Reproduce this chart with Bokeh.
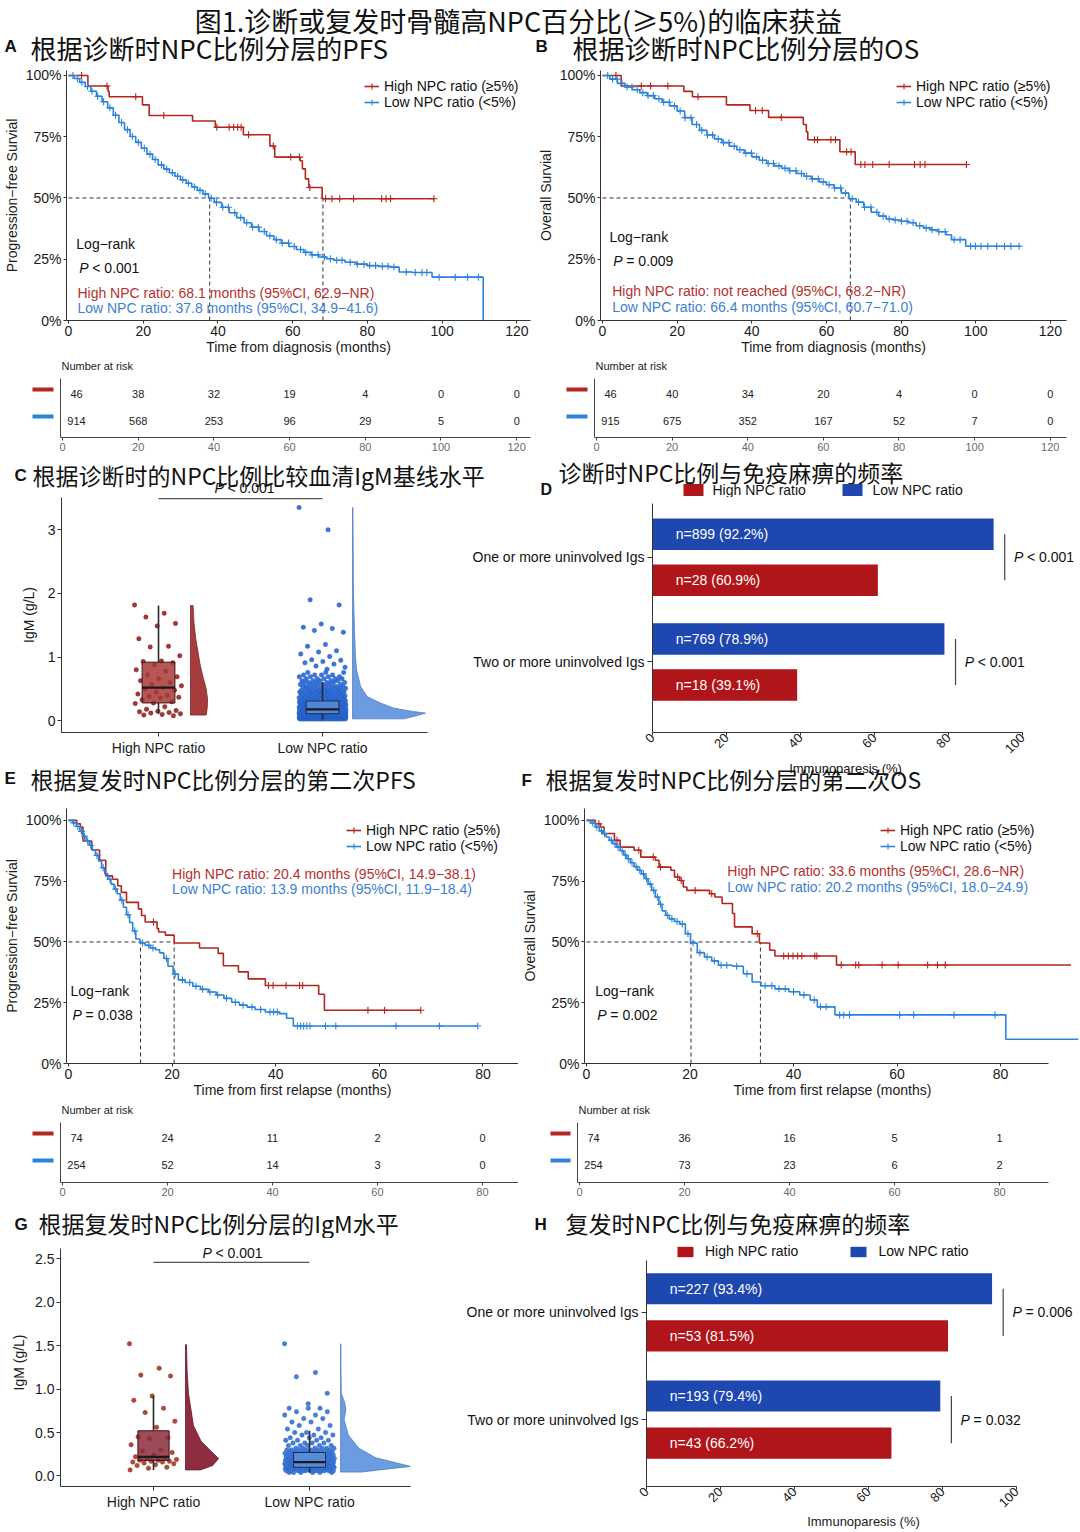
import math
import numpy as np
from bokeh.plotting import figure
from bokeh.models import Range1d, FixedTicker, NumeralTickFormatter, Legend, LegendItem
from bokeh.layouts import column, row
from bokeh.embed import file_html
from bokeh.resources import INLINE
from bokeh.core.properties import value

# ======================= DATA =======================
# ---- Panel A: PFS, NPC ratio at diagnosis ----
A_high_t = [0, 5.2, 10.6, 10.9, 19.8, 21.6, 33.2, 39.3, 46.8, 53.9, 55.2, 62.0, 62.6, 63.4, 64.3, 67.9, 98.0]
A_high_s = [1.0, 0.957, 0.935, 0.913, 0.880, 0.837, 0.814, 0.789, 0.758, 0.712, 0.667, 0.652, 0.619, 0.578, 0.543, 0.497, 0.497]
A_high_cens = [3.5, 10.3, 18.0, 25.5, 39.7, 43.0, 44.2, 45.3, 46.2, 48.2, 54.8, 59.5, 61.8, 64.6, 68.8, 70.5,
               72.6, 76.3, 83.8, 85.0, 86.2, 97.8]
A_low_t = [0, 1.5, 3, 4.5, 6, 7.5, 9, 10.5, 12, 13.5, 15, 16.5, 18, 19.5, 21, 22.5, 24, 25.5, 27, 28.5,
           30, 31.5, 33, 34.5, 36, 37.5, 39, 41, 43, 45, 47, 49, 51, 53, 55, 57, 59, 61, 63, 65,
           67, 69, 71, 74, 77, 80, 83, 86, 88.5, 92, 97.3, 111]
A_low_s = [1.0, 0.988, 0.972, 0.955, 0.936, 0.915, 0.893, 0.868, 0.838, 0.808, 0.779, 0.751, 0.727, 0.703,
           0.679, 0.657, 0.635, 0.618, 0.603, 0.589, 0.574, 0.56, 0.545, 0.531, 0.517, 0.499, 0.482, 0.462,
           0.44, 0.42, 0.399, 0.381, 0.363, 0.346, 0.33, 0.316, 0.302, 0.29, 0.278, 0.268, 0.259, 0.252,
           0.246, 0.238, 0.23, 0.224, 0.221, 0.218, 0.198, 0.196, 0.177, 0.0]
A_low_cens = [1.2, 2.4, 3.6, 5.1, 6.3, 7.8, 9.4, 11.1, 12.6, 14.2, 15.8, 17.1, 18.7, 20.3, 21.8, 23.2, 24.9,
              26.3, 27.8, 29.2, 30.6, 32.1, 33.7, 35.2, 36.6, 38.2, 39.6, 41.3, 42.8, 44.5, 46.1, 47.7, 49.3,
              50.8, 52.4, 53.9, 55.6, 57.2, 58.9, 60.4, 62.1, 63.5, 65.2, 66.8, 68.5, 70.1, 71.8, 73.2, 75.4,
              77.3, 79.1, 80.6, 82.2, 84.0, 85.5, 87.1, 90.4, 92.8, 94.6, 95.9, 99.2, 103.5, 106.8, 109.7]
A_medians = [37.8, 68.1]
A_risk_t = [0, 20, 40, 60, 80, 100, 120]
A_risk_high = [46, 38, 32, 19, 4, 0, 0]
A_risk_low = [914, 568, 253, 96, 29, 5, 0]

# ---- Panel B: OS, NPC ratio at diagnosis ----
B_high_t = [0, 5.0, 21.8, 24.1, 33.2, 39.5, 44.5, 53.8, 54.6, 55.0, 63.6, 67.7, 97.5]
B_high_s = [1.0, 0.957, 0.935, 0.913, 0.880, 0.857, 0.829, 0.800, 0.770, 0.738, 0.689, 0.637, 0.637]
B_high_cens = [3.6, 10.4, 12.9, 17.5, 25.6, 41.0, 42.8, 47.9, 56.8, 57.6, 61.2, 62.4, 65.4, 66.6, 69.2,
               70.3, 72.4, 76.8, 83.6, 85.1, 86.4, 97.5]
B_low_t = [0, 2, 4, 6, 8, 10, 12, 14, 16, 18, 20, 22, 24, 26, 28, 30, 32, 34, 36, 38, 40, 42, 44, 46, 48,
           50, 52, 54, 56, 58, 60, 62, 64, 66, 68, 70, 72, 74, 76, 78, 80, 82, 84, 86, 88, 90, 92, 93.5,
           97.3, 112]
B_low_s = [1.0, 0.985, 0.968, 0.953, 0.942, 0.93, 0.918, 0.905, 0.891, 0.876, 0.855, 0.828, 0.80, 0.776,
           0.757, 0.741, 0.726, 0.711, 0.697, 0.683, 0.668, 0.654, 0.641, 0.631, 0.621, 0.611, 0.60, 0.589,
           0.578, 0.566, 0.554, 0.541, 0.52, 0.497, 0.483, 0.462, 0.442, 0.426, 0.414, 0.41, 0.405, 0.399,
           0.387, 0.378, 0.37, 0.362, 0.35, 0.33, 0.303, 0.303]
B_low_cens = [1.4, 2.7, 3.9, 5.2, 6.6, 7.9, 9.3, 10.8, 12.2, 13.6, 15.1, 16.4, 17.9, 19.3, 20.8, 22.1, 23.7,
              25.2, 26.6, 28.1, 29.5, 31.0, 32.4, 33.9, 35.3, 36.8, 38.4, 39.9, 41.3, 42.9, 44.4, 45.8, 47.3,
              48.9, 50.2, 51.8, 53.3, 54.7, 56.2, 57.8, 59.1, 60.7, 62.2, 63.8, 65.1, 66.9, 68.6, 70.2, 71.9,
              73.5, 75.2, 76.8, 78.4, 80.1, 81.6, 83.2, 85.0, 86.7, 88.3, 90.1, 91.8, 94.2, 95.8, 98.6, 99.9,
              101.4, 103.2, 105.6, 107.7, 109.4, 111.6]
B_medians = [66.4]
B_risk_high = [46, 40, 34, 20, 4, 0, 0]
B_risk_low = [915, 675, 352, 167, 52, 7, 0]

# ---- Panel E: second PFS, NPC ratio at relapse ----
E_high_t = [0, 1.6, 2.3, 2.8, 4.5, 6.0, 7.2, 8.5, 9.5, 10.2, 11.2, 13.5, 14.1, 14.8, 17.1, 17.4, 18.7,
            20.4, 25.3, 28.9, 29.9, 32.8, 34.7, 38.0, 48.3, 49.4, 68.0]
E_high_s = [1.0, 0.986, 0.973, 0.915, 0.878, 0.836, 0.772, 0.758, 0.731, 0.704, 0.663, 0.636, 0.609, 0.582,
            0.555, 0.541, 0.528, 0.496, 0.475, 0.453, 0.402, 0.377, 0.348, 0.321, 0.285, 0.219, 0.219]
E_high_cens = [16.4, 38.6, 39.5, 42.0, 44.6, 45.2, 57.8, 61.0, 68.0]
E_low_t = [0, 0.8, 1.5, 2.2, 2.8, 3.4, 4.0, 4.6, 5.2, 5.8, 6.4, 7.0, 7.6, 8.2, 8.8, 9.4, 10.0, 10.6, 11.2,
           11.8, 12.4, 13.0, 13.8, 14.8, 15.8, 16.8, 17.6, 18.4, 19.2, 20.2, 21.2, 22.5, 24.0, 25.5, 27.0,
           28.5, 30.0, 31.5, 33.0, 34.5, 36.0, 38.0, 40.7, 42.1, 43.4, 79.0]
E_low_s = [1.0, 0.99, 0.975, 0.955, 0.935, 0.915, 0.898, 0.877, 0.856, 0.833, 0.805, 0.78, 0.758, 0.738,
           0.718, 0.698, 0.672, 0.643, 0.612, 0.58, 0.545, 0.512, 0.496, 0.486, 0.475, 0.468, 0.455, 0.432,
           0.40, 0.368, 0.344, 0.333, 0.318, 0.305, 0.294, 0.282, 0.268, 0.252, 0.24, 0.232, 0.222, 0.212,
           0.205, 0.186, 0.154, 0.154]
E_low_cens = [1.0, 1.8, 2.5, 3.1, 3.7, 4.3, 5.5, 6.7, 8.0, 9.1, 10.3, 11.5, 12.8, 14.3, 15.5, 16.3, 18.9,
              20.6, 22.0, 23.4, 24.6, 25.9, 27.3, 28.8, 30.5, 32.2, 33.7, 35.4, 37.1, 38.9, 39.6, 40.3, 44.2,
              44.8, 45.4, 46.0, 46.6, 49.6, 51.6, 63.2, 71.6, 79.0]
E_medians = [13.9, 20.4]
E_risk_t = [0, 20, 40, 60, 80]
E_risk_high = [74, 24, 11, 2, 0]
E_risk_low = [254, 52, 14, 3, 0]

# ---- Panel F: second OS, NPC ratio at relapse ----
F_high_t = [0, 1.7, 2.7, 3.4, 5.4, 6.5, 9.2, 10.5, 13.3, 14.0, 16.3, 17.0, 18.0, 18.7, 19.4, 23.8, 24.8,
            26.2, 28.2, 28.6, 32.0, 33.4, 35.4, 36.4, 48.3, 93.6]
F_high_s = [1.0, 0.986, 0.973, 0.946, 0.918, 0.89, 0.877, 0.849, 0.836, 0.808, 0.795, 0.767, 0.753, 0.726,
            0.712, 0.698, 0.685, 0.658, 0.617, 0.562, 0.534, 0.496, 0.466, 0.442, 0.405, 0.405]
F_high_cens = [2.4, 5.9, 10.1, 12.9, 14.3, 17.6, 18.3, 21.0, 24.2, 33.0, 38.1, 39.0, 39.9, 40.8, 41.6,
               44.1, 44.5, 49.2, 52.0, 52.6, 57.1, 60.2, 65.9, 67.8, 69.3]
F_low_t = [0, 0.8, 1.7, 2.5, 3.1, 3.8, 4.4, 5.1, 5.8, 6.5, 7.2, 7.8, 8.5, 9.2, 9.9, 10.6, 11.3, 11.9, 12.6,
           13.3, 14.0, 14.6, 15.3, 16.0, 17.0, 18.0, 19.1, 20.1, 21.4, 22.8, 24.2, 25.5, 28.2, 30.3, 32.0,
           33.7, 36.4, 39.1, 41.2, 43.2, 44.6, 48.0, 81.0, 95.0]
F_low_s = [1.0, 0.99, 0.973, 0.957, 0.945, 0.932, 0.918, 0.904, 0.89, 0.875, 0.858, 0.842, 0.826, 0.81,
           0.795, 0.78, 0.76, 0.738, 0.712, 0.685, 0.655, 0.628, 0.61, 0.595, 0.584, 0.574, 0.534, 0.496,
           0.456, 0.438, 0.422, 0.404, 0.40, 0.369, 0.335, 0.32, 0.307, 0.295, 0.282, 0.261, 0.233, 0.20,
           0.10, 0.10]
F_low_cens = [1.2, 2.0, 2.9, 3.5, 4.8, 5.5, 6.1, 6.9, 7.5, 8.1, 8.8, 9.6, 10.3, 11.0, 11.6, 12.3, 13.0,
              13.7, 14.3, 15.6, 16.5, 17.5, 18.5, 19.6, 20.6, 21.9, 23.3, 24.7, 26.0, 27.1, 29.0, 31.0, 34.5,
              35.8, 37.2, 38.4, 40.0, 42.0, 44.0, 45.2, 46.3, 48.9, 49.7, 50.8, 60.5, 63.2, 71.0, 78.9]
F_medians = [20.2, 33.6]
F_risk_high = [74, 36, 16, 5, 1]
F_risk_low = [254, 73, 23, 6, 2]

# ---- Panel C: baseline serum IgM (g/L) ----
C_high_vals = [1.82, 1.69, 1.63, 1.53, 1.49, 1.29, 1.17, 1.16, 1.02, 0.94, 0.93, 0.91, 0.88, 0.80, 0.78,
               0.72, 0.69, 0.66, 0.63, 0.60, 0.57, 0.55, 0.52, 0.50, 0.48, 0.45, 0.42, 0.40, 0.38, 0.37,
               0.36, 0.33, 0.30, 0.28, 0.27, 0.22, 0.18, 0.16, 0.15, 0.14, 0.13, 0.12, 0.11, 0.10, 0.09, 0.08]
C_low_sparse = [3.35, 3.0, 1.90, 1.82, 1.52, 1.47, 1.45, 1.42, 1.39, 1.20, 1.17, 1.10, 1.08, 1.05, 1.01,
                0.96, 0.95, 0.93, 0.91, 0.89, 0.86, 0.84, 0.81]
C_low_levels = [0.03, 0.05, 0.07, 0.09, 0.11, 0.13, 0.15, 0.17, 0.19, 0.21, 0.23, 0.25, 0.27, 0.29, 0.31,
                0.33, 0.36, 0.39, 0.42, 0.45, 0.48, 0.51, 0.54, 0.57, 0.60, 0.63, 0.66, 0.69, 0.72, 0.76]
C_low_counts = [40, 50, 55, 55, 55, 50, 45, 40, 35, 30, 28, 25, 22, 20, 18, 15, 14, 12, 11, 10, 9, 8, 7, 6,
                6, 5, 5, 4, 4, 3]
C_high_box = [0.11, 0.28, 0.52, 0.92, 1.81]   # whisker-lo, q1, median, q3, whisker-hi
C_low_box = [0.02, 0.11, 0.18, 0.31, 0.61]
C_high_viol_v = [0.09, 0.2, 0.34, 0.5, 0.7, 0.9, 1.05, 1.3, 1.55, 1.81]
C_high_viol_w = [0.92, 0.98, 1.0, 0.92, 0.72, 0.55, 0.46, 0.3, 0.2, 0.15]
C_low_viol_v = [0.03, 0.08, 0.12, 0.15, 0.2, 0.28, 0.38, 0.54, 0.8, 1.0, 1.31, 2.0, 3.35]
C_low_viol_w = [0.7, 0.88, 1.0, 0.8, 0.56, 0.38, 0.2, 0.11, 0.055, 0.04, 0.03, 0.012, 0.005]

# ---- Panel G: IgM at relapse (g/L) ----
G_high_vals = [1.52, 1.24, 1.16, 1.15, 0.92, 0.87, 0.78, 0.73, 0.63, 0.56, 0.45, 0.44, 0.43, 0.36, 0.30,
               0.29, 0.27, 0.24, 0.22, 0.21, 0.20, 0.19, 0.18, 0.18, 0.17, 0.17, 0.16, 0.16, 0.15, 0.14,
               0.13, 0.12, 0.10, 0.09, 0.07]
G_low_sparse = [1.52, 1.19, 1.14, 0.95, 0.83]
G_low_levels = [0.04, 0.06, 0.08, 0.10, 0.12, 0.14, 0.16, 0.18, 0.20, 0.22, 0.24, 0.26, 0.28, 0.30, 0.32,
                0.35, 0.38, 0.41, 0.44, 0.47, 0.50, 0.54, 0.58, 0.62, 0.66, 0.70, 0.74, 0.78]
G_low_counts = [6, 12, 18, 20, 22, 20, 18, 16, 14, 12, 10, 9, 8, 7, 6, 5, 4, 4, 3, 3, 3, 2, 2, 2, 2, 2, 2, 3]
G_high_box = [0.07, 0.18, 0.22, 0.52, 0.92]
G_low_box = [0.04, 0.10, 0.16, 0.27, 0.52]
G_high_viol_v = [0.07, 0.12, 0.2, 0.29, 0.4, 0.58, 0.95, 1.2, 1.51]
G_high_viol_w = [0.45, 0.82, 1.0, 0.76, 0.47, 0.24, 0.09, 0.05, 0.03]
G_low_viol_v = [0.045, 0.07, 0.11, 0.16, 0.21, 0.32, 0.47, 0.65, 0.76, 0.84, 0.95, 1.2, 1.52]
G_low_viol_w = [0.3, 0.55, 1.0, 0.75, 0.5, 0.26, 0.11, 0.05, 0.075, 0.06, 0.01, 0.005, 0.003]

# ---- Panels D / H: immunoparesis (%) ----
IG_cats = ["One or more uninvolved Igs", "Two or more uninvolved Igs"]
D_low_pct = [92.2, 78.9]
D_high_pct = [60.9, 39.1]
D_low_n = [899, 769]
D_high_n = [28, 18]
D_p = ["P < 0.001", "P < 0.001"]
H_low_pct = [93.4, 79.4]
H_high_pct = [81.5, 66.2]
H_low_n = [227, 193]
H_high_n = [53, 43]
H_p = ["P = 0.006", "P = 0.032"]

# ======================= STYLE =======================
CJK = "Noto Sans CJK SC"
SANS = "Liberation Sans"
KM_RED = "#B3261E"
KM_BLUE = "#2D83DA"
T_RED = "#B5302F"
T_BLUE = "#3D7FD4"
BAR_RED = "#B01519"
BAR_BLUE = "#1E47AF"
INK = "#111111"


def new_fig(w, h, xr, yr, bl=0, br=0, bt=0, bb=0, xaxis=True, yaxis=True):
    kw = {}
    if not xaxis:
        kw["x_axis_location"] = None
    if not yaxis:
        kw["y_axis_location"] = None
    p = figure(width=w, height=h, x_range=Range1d(*xr), y_range=Range1d(*yr),
               output_backend="svg", toolbar_location=None, title=None,
               min_border_left=bl, min_border_right=br, min_border_top=bt, min_border_bottom=bb, **kw)
    p.outline_line_color = None
    p.grid.visible = False
    p.background_fill_color = "white"
    p.border_fill_color = "white"
    return p


def style_axis(ax, fs=14, color="#1a1a1a", lc="#333333", tick_out=3):
    ax.major_label_text_font = SANS
    ax.major_label_text_font_size = f"{fs}px"
    ax.major_label_text_color = color
    ax.axis_line_color = lc
    ax.axis_line_width = 1
    ax.major_tick_line_color = lc
    ax.minor_tick_line_color = None
    ax.major_tick_in = 0
    ax.major_tick_out = tick_out
    ax.major_label_standoff = 2
    ax.axis_label_text_font = SANS
    ax.axis_label_text_font_size = f"{fs}px"
    ax.axis_label_text_font_style = "normal"
    ax.axis_label_text_color = color


def txt(p, x, y, s, size=14, color=INK, align="left", font=SANS, style="normal", baseline="middle", xoff=0):
    p.text(x=[x], y=[y], text=[s], text_font=value(font), text_font_size=f"{size}px",
           text_color=color, text_align=align, text_baseline=baseline, text_font_style=style,
           x_offset=xoff)


def ptxt(p, x, y, s, size=14, color=INK):
    # italic "P" followed by the rest of the statistic
    txt(p, x, y, "P", size, color, style="italic")
    txt(p, x, y, s[2:], size, color, xoff=round(size * 0.95))


def km_panel(w, h, xr, yr, bl, br, bt, bb, xticks, xlabel, ylabel, curves, medians, leg_loc, notes,
             xbounds=None):
    p = new_fig(w, h, xr, yr, bl, br, bt, bb)
    xa, ya = p.xaxis[0], p.yaxis[0]
    style_axis(xa)
    style_axis(ya)
    xa.ticker = FixedTicker(ticks=xticks)
    ya.ticker = FixedTicker(ticks=[0, 0.25, 0.5, 0.75, 1.0])
    ya.formatter = NumeralTickFormatter(format="0%")
    xa.axis_label = xlabel
    ya.axis_label = ylabel
    xa.axis_label_standoff = 0
    ya.axis_label_standoff = 3
    if xbounds:
        xa.bounds = xbounds
    mx = max(medians)
    p.line([0, mx], [0.5, 0.5], line_color="#333333", line_dash="4 3", line_width=1)
    for m in medians:
        p.line([m, m], [0, 0.5], line_color="#333333", line_dash="4 3", line_width=1)
    items = []
    for label, t, s, cens, color in curves:
        r1 = p.step(x=t, y=s, mode="after", line_color=color, line_width=1.6)
        ta = np.array(t)
        sa = np.array(s)
        ca = np.array(cens)
        idx = np.searchsorted(ta, ca, side="right") - 1
        r2 = p.scatter(x=ca, y=sa[idx], marker="cross", size=7, line_color=color, line_width=1.1)
        items.append(LegendItem(label=label, renderers=[r1, r2]))
    leg = Legend(items=items, location=leg_loc, orientation="vertical", border_line_color=None,
                 background_fill_alpha=0, padding=0, margin=0, spacing=0, label_height=16,
                 glyph_height=16, glyph_width=15, label_standoff=5, label_text_font=SANS,
                 label_text_font_size="14px", label_text_color=INK)
    p.add_layout(leg)
    for x, y, s, color in notes:
        if s.startswith("P "):
            ptxt(p, x, y, s, 14, color)
        else:
            txt(p, x, y, s, 14, color)
    return p


def risk_panel(w, h, xr, yr, br, bb, xbounds, xticks, hi_n, lo_n, key_x, vline_x, nar_x):
    p = new_fig(w, h, xr, yr, 0, br, 0, bb, yaxis=False)
    xa = p.xaxis[0]
    style_axis(xa, fs=11, color="#6a6a6a", lc="#444444")
    xa.ticker = FixedTicker(ticks=xticks)
    xa.bounds = xbounds
    p.segment(x0=[vline_x], y0=[yr[0]], x1=[vline_x], y1=[1.59], line_color="#444444", line_width=1)
    p.segment(x0=[key_x[0], key_x[0]], x1=[key_x[1], key_x[1]], y0=[1.185, 0.185], y1=[1.185, 0.185],
              line_color=[KM_RED, KM_BLUE], line_width=4)
    txt(p, nar_x, 2.037, "Number at risk", 11, "#222222")
    for yv, ns in [(1, hi_n), (0, lo_n)]:
        p.text(x=xticks[1:], y=[yv] * (len(xticks) - 1), text=[str(n) for n in ns[1:]],
               text_font=value(SANS), text_font_size="11px", text_color="#222222",
               text_align="center", text_baseline="middle")
        p.text(x=[xticks[0]], y=[yv], text=[str(ns[0])], text_font=value(SANS), text_font_size="11px",
               text_color="#222222", text_align="center", text_baseline="middle", x_offset=14)
    return p


def jitter(n, half):
    return ((np.arange(n) * 0.6180339887) % 1.0 - 0.5) * 2 * half


def rain_panel(w, h, xr, yr, bl, br, bb, yticks, yfmt, ybounds, groups, bracket_y, lab_standoff,
               ptext=None):
    p = new_fig(w, h, xr, yr, bl, br, 0, bb)
    xa, ya = p.xaxis[0], p.yaxis[0]
    style_axis(xa, tick_out=4)
    style_axis(ya, tick_out=4)
    xa.ticker = FixedTicker(ticks=[0, 1])
    xa.major_label_overrides = {0: "High NPC ratio", 1: "Low NPC ratio"}
    xa.major_label_standoff = 3
    ya.ticker = FixedTicker(ticks=yticks)
    if yfmt:
        ya.formatter = NumeralTickFormatter(format=yfmt)
    ya.axis_label = "IgM (g/L)"
    ya.axis_label_standoff = lab_standoff
    ya.bounds = ybounds
    for g in groups:
        cx = g["cx"]
        vals = np.array(g["vals"])
        vv = np.array(g["vv"])
        vw = np.array(g["vw"]) * g["vmax"]
        base = cx + g["vbase"]
        px = [base] + list(base + vw) + [base]
        py = [vv[0]] + list(vv) + [vv[-1]]
        p.patch(px, py, fill_color=g["vfill"], line_color=g["vline"], line_width=0.8)
        p.scatter(x=cx + jitter(len(vals), g["jit"]), y=vals, size=4.5, fill_color=g["pt"],
                  line_color=g["ptl"], line_width=0.4, fill_alpha=0.95)
        wl, q1, md, q3, wh = g["box"]
        bw = g["bw"] / 2
        p.segment(x0=[cx, cx], x1=[cx, cx], y0=[wl, q3], y1=[q1, wh], line_color="#2a2a2a", line_width=1.6)
        p.quad(left=[cx - bw], right=[cx + bw], bottom=[q1], top=[q3], fill_color=g["bfill"],
               fill_alpha=0.85, line_color=g["bline"], line_width=1)
        p.segment(x0=[cx - bw], x1=[cx + bw], y0=[md], y1=[md], line_color="#1a1a1a", line_width=2.2)
    p.segment(x0=[0], x1=[1], y0=[bracket_y], y1=[bracket_y], line_color="#555555", line_width=1.2)
    if ptext:
        ptxt(p, ptext[0], ptext[1], ptext[2], 14, INK)
    return p


def bar_panel(w, h, xr, yr, bl, bb, ybounds, lo_pct, hi_pct, lo_n, hi_n, pvals, off, bh, xlabel=None,
              leg_loc=None):
    p = new_fig(w, h, xr, yr, bl, 0, 0, bb)
    xa, ya = p.xaxis[0], p.yaxis[0]
    style_axis(xa, fs=13, tick_out=3)
    style_axis(ya, fs=14, tick_out=5)
    xa.ticker = FixedTicker(ticks=[0, 20, 40, 60, 80, 100])
    xa.bounds = (0, 100)
    xa.major_label_orientation = math.pi / 4
    xa.major_label_standoff = 0
    if xlabel:
        xa.axis_label = xlabel
        xa.axis_label_standoff = 0
    ya.ticker = FixedTicker(ticks=[1, 0])
    ya.major_label_overrides = {1: IG_cats[0], 0: IG_cats[1]}
    ya.major_label_standoff = 3
    ya.major_label_text_color = INK
    ya.bounds = ybounds
    gy = np.array([1.0, 0.0])
    r_lo = p.hbar(y=gy + off, right=lo_pct, left=0, height=bh, fill_color=BAR_BLUE, line_color=None)
    r_hi = p.hbar(y=gy - off, right=hi_pct, left=0, height=bh, fill_color=BAR_RED, line_color=None)
    p.text(x=[6.3, 6.3], y=list(gy + off), text=[f"n={n} ({v:.1f}%)" for n, v in zip(lo_n, lo_pct)],
           text_font=value(SANS), text_font_size="14px", text_color="white", text_baseline="middle")
    p.text(x=[6.3, 6.3], y=list(gy - off), text=[f"n={n} ({v:.1f}%)" for n, v in zip(hi_n, hi_pct)],
           text_font=value(SANS), text_font_size="14px", text_color="white", text_baseline="middle")
    xl = np.array(lo_pct) + 3.0
    p.segment(x0=xl, x1=xl, y0=gy + off, y1=gy - off, line_color="#444444", line_width=1.2)
    for i in range(2):
        ptxt(p, xl[i] + 2.5, gy[i], pvals[i], 14, INK)
    if leg_loc is not None:
        leg = Legend(items=[LegendItem(label="High NPC ratio", renderers=[r_hi]),
                            LegendItem(label="Low NPC ratio", renderers=[r_lo])],
                     location=leg_loc, orientation="horizontal", border_line_color=None,
                     background_fill_alpha=0, padding=0, margin=0, spacing=50, label_height=14,
                     glyph_height=13, glyph_width=20, label_standoff=10, label_text_font=SANS,
                     label_text_font_size="14px", label_text_color=INK)
        p.add_layout(leg)
    return p


def header(w, h):
    return new_fig(w, h, (0, w), (h, 0), xaxis=False, yaxis=False)


# ======================= BUILD =======================
# ---- header 0 (main title + A/B titles), page rows 0-66 ----
h0 = header(1080, 66)
txt(h0, 518, 20, "图1.诊断或复发时骨髓高NPC百分比(≥5%)的临床获益", 27, INK, align="center", font=CJK)
txt(h0, 4, 46, "A", 17, INK, style="bold")
txt(h0, 30, 47, "根据诊断时NPC比例分层的PFS", 26, INK, font=CJK)
txt(h0, 535, 46, "B", 17, INK, style="bold")
txt(h0, 572, 47, "根据诊断时NPC比例分层的OS", 26, INK, font=CJK)

LEG_HI = "High NPC ratio (≥5%)"
LEG_LO = "Low NPC ratio (<5%)"

# rows 66-358
pA = km_panel(534, 292, (-0.528, 123.65), (0, 1.0204), 60, 4, 4, 38, [0, 20, 40, 60, 80, 100, 120],
              "Time from diagnosis (months)", "Progression−free Survial",
              [(LEG_HI, A_high_t, A_high_s, A_high_cens, KM_RED),
               (LEG_LO, A_low_t, A_low_s, A_low_cens, KM_BLUE)],
              A_medians, (298, 210),
              [(2.1, 0.314, "Log−rank", INK), (2.9, 0.216, "P < 0.001", INK),
               (2.4, 0.114, "High NPC ratio: 68.1 months (95%CI, 62.9−NR)", T_RED),
               (2.4, 0.053, "Low NPC ratio: 37.8 months (95%CI, 34.9−41.6)", T_BLUE)])
pB = km_panel(546, 292, (-0.53, 124.3), (0, 1.0204), 60, 14, 4, 38, [0, 20, 40, 60, 80, 100, 120],
              "Time from diagnosis (months)", "Overall Survial",
              [(LEG_HI, B_high_t, B_high_s, B_high_cens, KM_RED),
               (LEG_LO, B_low_t, B_low_s, B_low_cens, KM_BLUE)],
              B_medians, (296, 210),
              [(1.85, 0.339, "Log−rank", INK), (2.9, 0.241, "P = 0.009", INK),
               (2.6, 0.122, "High NPC ratio: not reached (95%CI, 68.2−NR)", T_RED),
               (2.6, 0.057, "Low NPC ratio: 66.4 months (95%CI, 60.7−71.0)", T_BLUE)])

# rows 358-455
rA = risk_panel(534, 97, (-16.38, 123.65), (-0.593, 2.333), 4, 18, (-0.528, 123.65), A_risk_t,
                A_risk_high, A_risk_low, (-7.93, -2.38), -0.528, -0.26)
rB = risk_panel(546, 97, (-16.40, 124.3), (-0.593, 2.333), 14, 18, (-0.53, 124.3), A_risk_t,
                B_risk_high, B_risk_low, (-7.94, -2.38), -0.53, -0.26)

# ---- header 1 (C / D titles), rows 455-497 ----
h1 = header(1080, 42)
ptxt(h1, 214, 32, "P < 0.001", 14, INK)
txt(h1, 14, 20, "C", 17, INK, style="bold")
txt(h1, 32, 19, "根据诊断时的NPC比例比较血清IgM基线水平", 23, INK, font=CJK)
txt(h1, 540, 34, "D", 16, INK, style="bold")
txt(h1, 558, 16, "诊断时NPC比例与免疫麻痹的频率", 23, INK, font=CJK)
h1.rect(x=[693, 852], y=[34.5, 34.5], width=20, height=12, fill_color=[BAR_RED, BAR_BLUE], line_color=None)
txt(h1, 712, 34.5, "High NPC ratio", 14, INK)
txt(h1, 872, 34.5, "Low NPC ratio", 14, INK)

# rows 497-760
C_low_vals = list(C_low_sparse) + list(np.repeat(C_low_levels, C_low_counts))
pC = rain_panel(440, 263, (-0.5915, 1.640), (-0.1846, 3.508), 61, 13, 23, [0, 1, 2, 3], None,
                (-0.1846, 3.508),
                [dict(cx=0, vals=C_high_vals, jit=0.146, box=C_high_box, bw=0.2, vv=C_high_viol_v,
                      vw=C_high_viol_w, vbase=0.195, vmax=0.104, pt="#A52A2A", ptl="#6E1A1A",
                      bfill="#A83A3A", bline="#3B1515", vfill="#A83C3C", vline="#7A2323"),
                 dict(cx=1, vals=C_low_vals, jit=0.143, box=C_low_box, bw=0.2, vv=C_low_viol_v,
                      vw=C_low_viol_w, vbase=0.183, vmax=0.445, pt="#2F6FD8", ptl="#1F55B5",
                      bfill="#5B8CD8", bline="#1B2F55", vfill="#6B9BE0", vline="#4F7EC4")],
                3.49, 8)

pD = bar_panel(640, 263, (0, 115.68), (-0.673, 1.570), 212, 23, (-0.673, 1.514), D_low_pct, D_high_pct,
               D_low_n, D_high_n, D_p, 0.22, 0.30)

# ---- header 2 (E / F titles), rows 760-800 ----
h2 = header(1080, 40)
txt(h2, 845, 8, "Immunoparesis (%)", 13, INK, align="center")
txt(h2, 4, 18, "E", 17, INK, style="bold")
txt(h2, 30, 18, "根据复发时NPC比例分层的第二次PFS", 23, INK, font=CJK)
txt(h2, 521, 20, "F", 17, INK, style="bold")
txt(h2, 545, 18, "根据复发时NPC比例分层的第二次OS", 23, INK, font=CJK)

# rows 800-1100
pE = km_panel(518, 300, (-0.381, 86.86), (0, 1.049), 60, 0, 8, 36, [0, 20, 40, 60, 80],
              "Time from first relapse (months)", "Progression−free Survial",
              [(LEG_HI, E_high_t, E_high_s, E_high_cens, KM_RED),
               (LEG_LO, E_low_t, E_low_s, E_low_cens, KM_BLUE)],
              E_medians, (280, 209),
              [(0.4, 0.299, "Log−rank", INK), (0.8, 0.201, "P = 0.038", INK),
               (20.0, 0.779, "High NPC ratio: 20.4 months (95%CI, 14.9−38.1)", T_RED),
               (20.0, 0.717, "Low NPC ratio: 13.9 months (95%CI, 11.9−18.4)", T_BLUE)])
pF = km_panel(562, 300, (-0.381, 95.43), (0, 1.049), 59, 0, 8, 36, [0, 20, 40, 60, 80],
              "Time from first relapse (months)", "Overall Survial",
              [(LEG_HI, F_high_t, F_high_s, F_high_cens, KM_RED),
               (LEG_LO, F_low_t, F_low_s, F_low_cens, KM_BLUE)],
              F_medians, (296, 209),
              [(1.7, 0.299, "Log−rank", INK), (2.1, 0.201, "P = 0.002", INK),
               (27.2, 0.791, "High NPC ratio: 33.6 months (95%CI, 28.6−NR)", T_RED),
               (27.2, 0.725, "Low NPC ratio: 20.2 months (95%CI, 18.0−24.9)", T_BLUE)],
              xbounds=(-0.381, 89.3))

# rows 1100-1203
rE = risk_panel(518, 103, (-11.81, 86.86), (-0.63, 2.407), 0, 21, (-0.381, 86.86), E_risk_t,
                E_risk_high, E_risk_low, (-5.71, -1.71), -0.381, -0.19)
rF = risk_panel(562, 103, (-11.62, 89.33), (-0.63, 2.407), 32, 21, (-0.381, 89.33), E_risk_t,
                F_risk_high, F_risk_low, (-5.52, -1.71), -0.381, -0.19)

# ---- header 3 (G / H titles), rows 1203-1238 ----
h3 = header(1080, 35)
txt(h3, 14, 21, "G", 17, INK, style="bold")
txt(h3, 38, 19, "根据复发时NPC比例分层的IgM水平", 23, INK, font=CJK)
txt(h3, 534, 21, "H", 17, INK, style="bold")
txt(h3, 565, 19, "复发时NPC比例与免疫麻痹的频率", 23, INK, font=CJK)

# rows 1238-1532
G_low_vals = list(G_low_sparse) + list(np.repeat(G_low_levels, G_low_counts))
pG = rain_panel(445, 294, (-0.596, 1.647), (-0.121, 2.731), 60, 35, 35, [0, 0.5, 1.0, 1.5, 2.0, 2.5],
                "0.0", (-0.121, 2.62),
                [dict(cx=0, vals=G_high_vals, jit=0.154, box=G_high_box, bw=0.2, vv=G_high_viol_v,
                      vw=G_high_viol_w, vbase=0.205, vmax=0.212, pt="#B0402E", ptl="#7A2A1E",
                      bfill="#8C2B3B", bline="#3A1218", vfill="#8E2C40", vline="#5E1B2A"),
                 dict(cx=1, vals=G_low_vals, jit=0.16, box=G_low_box, bw=0.205, vv=G_low_viol_v,
                      vw=G_low_viol_w, vbase=0.199, vmax=0.449, pt="#3A78DA", ptl="#2A5DB8",
                      bfill="#5D90DB", bline="#1B2F55", vfill="#6C9CE0", vline="#4F7EC4")],
                2.456, 5, ptext=(0.314, 2.566, "P < 0.001"))

pH = bar_panel(635, 294, (0, 117.3), (-0.624, 1.688), 201, 42, (-0.624, 1.486), H_low_pct, H_high_pct,
               H_low_n, H_high_n, H_p, 0.22, 0.29, xlabel="Immunoparesis (%)", leg_loc=(29, 227))

layout = column(h0, row(pA, pB), row(rA, rB), h1, row(pC, pD), h2, row(pE, pF), row(rE, rF), h3,
                row(pG, pH))

open("out.html", "w").write(file_html(layout, INLINE))
